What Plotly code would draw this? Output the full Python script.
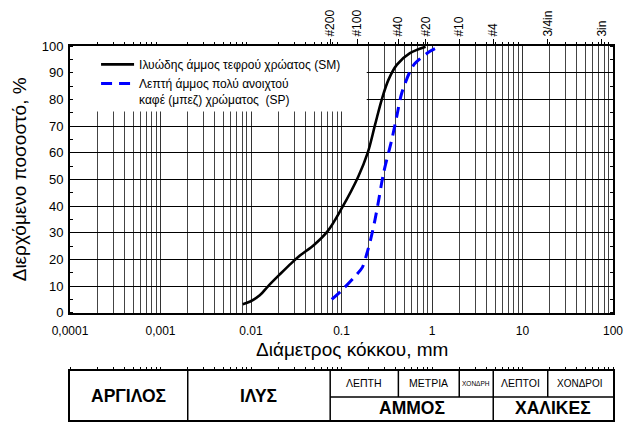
import numpy as np
import plotly.graph_objects as go

# ---------------- data ----------------
sm_d = [0.0081, 0.0098, 0.0125, 0.0155, 0.021, 0.028, 0.035, 0.05, 0.07, 0.1,
        0.153, 0.195, 0.235, 0.278, 0.33, 0.41, 0.57, 0.85]
sm_p = [3.2, 4.2, 6.5, 10.0, 14.5, 18.6, 21.5, 25.5, 30.5, 39.0,
        51.0, 60.0, 70.5, 79.8, 87.3, 93.0, 97.3, 99.7]

sp_d = [0.078, 0.1, 0.135, 0.17, 0.19, 0.21, 0.235, 0.26, 0.29, 0.36,
        0.41, 0.46, 0.57, 0.65, 0.95, 1.2]
sp_p = [5.0, 8.3, 12.9, 17.0, 22.0, 27.5, 35.0, 43.0, 52.0, 65.0,
        74.0, 82.0, 90.4, 93.5, 98.0, 99.7]

sm_name = "Ιλυώδης άμμος τεφρού χρώατος (SM)"
sp_name = "Λεπτή άμμος πολύ ανοιχτού<br>καφέ (μπεζ) χρώματος  (SP)"

x_tickvals = [0.0001, 0.001, 0.01, 0.1, 1, 10, 100]
x_ticktext = ["0,0001", "0,001", "0.01", "0.1", "1", "10", "100"]

sieve_sizes = [0.075, 0.15, 0.425, 0.85, 2.0, 4.75, 19.0, 75.0]
sieve_labels = ["#200", "#100", "#40", "#20", "#10", "#4", "3/4in", "3in"]

# soil classification table boundaries (mm)
full_dividers = [0.002, 0.075, 4.75]
half_dividers = [0.425, 2.0, 19.0]
big_labels = [("ΑΡΓΙΛΟΣ", 0.0001, 0.002), ("ΙΛΥΣ", 0.002, 0.075),
              ("ΑΜΜΟΣ", 0.075, 4.75), ("ΧΑΛΙΚΕΣ", 4.75, 100)]
small_labels = [("ΛΕΠΤΗ", 0.075, 0.425, 10.5), ("ΜΕΤΡΙΑ", 0.425, 2.0, 10.5),
                ("ΧΟΝΔΡΗ", 2.0, 4.75, 6.5), ("ΛΕΠΤΟΙ", 4.75, 19.0, 10.5),
                ("ΧΟΝΔΡΟΙ", 19.0, 100, 10)]

minor_vals = [m * 10.0 ** e for e in range(-4, 2) for m in range(2, 10)]
all_vals = sorted(minor_vals + x_tickvals)

FONT = "Arial, 'Liberation Sans', sans-serif"
H = 422.0
TOP = 46.0
AXIS_Y = 312.7
TABLE_TOP = 371.0
PLOT_H = H - TOP - 2  # plot area height (margin t=46, b=2)

fig = go.Figure()
fig.add_trace(go.Scatter(x=sm_d, y=sm_p, mode="lines", name=sm_name,
                         line=dict(color="black", width=2.6, shape="spline", smoothing=1.0)))
fig.add_trace(go.Scatter(x=sp_d, y=sp_p, mode="lines", name=sp_name,
                         line=dict(color="#0000ff", width=3, dash="11px,7px",
                                   shape="spline", smoothing=0.8)))
# helper traces so the extra axes are drawn
fig.add_trace(go.Scatter(x=sieve_sizes, y=[None] * len(sieve_sizes), xaxis="x2", yaxis="y",
                         mode="markers", showlegend=False, hoverinfo="skip"))
fig.add_trace(go.Scatter(x=x_tickvals, y=[None] * len(x_tickvals), xaxis="x3", yaxis="y3",
                         mode="markers", showlegend=False, hoverinfo="skip"))

shapes = []
# white box behind legend (covers grid only)
shapes.append(dict(type="rect", xref="x", yref="y", x0=0.0001, x1=0.19, y0=75.4, y1=100,
                   fillcolor="white", line=dict(width=0), layer="between"))
for d in full_dividers:
    shapes.append(dict(type="line", xref="x3", yref="y3", x0=d, x1=d, y0=0, y1=1,
                       line=dict(color="black", width=1.5)))
for d in half_dividers:
    shapes.append(dict(type="line", xref="x3", yref="y3", x0=d, x1=d, y0=0.47, y1=1,
                       line=dict(color="black", width=1.5)))
shapes.append(dict(type="line", xref="x3", yref="y3", x0=0.075, x1=100, y0=0.47, y1=0.47,
                   line=dict(color="black", width=1.5)))

annotations = []
for txt, a, b in big_labels:
    yy = 0.5 if txt in ("ΑΡΓΙΛΟΣ", "ΙΛΥΣ") else 0.24
    annotations.append(dict(text="<b>%s</b>" % txt, xref="x3", yref="y3",
                            x=(np.log10(a) + np.log10(b)) / 2, y=yy, showarrow=False,
                            xanchor="center", yanchor="middle",
                            font=dict(family=FONT, size=17.5, color="black")))
for txt, a, b, fs in small_labels:
    annotations.append(dict(text=txt, xref="x3", yref="y3",
                            x=(np.log10(a) + np.log10(b)) / 2, y=0.75, showarrow=False,
                            xanchor="center", yanchor="middle",
                            font=dict(family=FONT, size=fs, color="black")))
annotations.append(dict(text="Διάμετρος κόκκου, mm", xref="paper", yref="paper",
                        x=0.519, y=(H - 2 - 349) / PLOT_H, showarrow=False,
                        xanchor="center", yanchor="middle",
                        font=dict(family=FONT, size=19, color="black")))

fig.update_layout(
    width=633, height=422, autosize=False,
    margin=dict(l=70, r=20, t=46, b=2, pad=0, autoexpand=False),
    paper_bgcolor="white", plot_bgcolor="white",
    font=dict(family=FONT, color="black"),
    showlegend=True,
    legend=dict(x=0.048, y=0.989, xanchor="left", yanchor="top",
                bgcolor="rgba(255,255,255,0)", borderwidth=0, valign="top",
                font=dict(family=FONT, size=12, color="black"),
                tracegroupgap=0, itemwidth=33),
    xaxis=dict(type="log", range=[-4, 2], domain=[0, 1], anchor="y", automargin=False,
               tickvals=x_tickvals, ticktext=x_ticktext, ticks="", ticklabelstandoff=6,
               tickfont=dict(family=FONT, size=12),
               showgrid=True, gridcolor="#333", gridwidth=1,
               minor=dict(tickvals=minor_vals, showgrid=True, gridcolor="#444", gridwidth=1, ticks=""),
               showline=True, linecolor="black", linewidth=2, mirror=True, zeroline=False),
    xaxis2=dict(type="log", range=[-4, 2], overlaying="x", side="top", anchor="y", automargin=False,
                tickvals=sieve_sizes, ticktext=sieve_labels, tickangle=-90,
                ticks="outside", ticklen=6, tickcolor="black", tickwidth=1,
                tickfont=dict(family=FONT, size=12),
                minor=dict(tickvals=minor_vals, ticks="outside", ticklen=3, tickcolor="black"),
                showgrid=False, showline=False, zeroline=False),
    yaxis=dict(range=[0, 100], domain=[(H - 2 - AXIS_Y) / PLOT_H, 1], anchor="x", automargin=False,
               tickvals=list(range(0, 101, 10)), ticks="", ticklabelstandoff=2,
               tickfont=dict(family=FONT, size=13),
               showgrid=True, gridcolor="#000", gridwidth=1,
               minor=dict(dtick=5, ticks="inside", ticklen=3, tickcolor="black", showgrid=False),
               showline=True, linecolor="black", linewidth=2, mirror="allticks", zeroline=False,
               title=dict(text="Διερχόμενο ποσοστό, %", font=dict(family=FONT, size=19), standoff=10)),
    xaxis3=dict(type="log", range=[-4, 2], domain=[0, 1], anchor="y3", automargin=False,
                tickvals=all_vals, showticklabels=False, ticks="outside", ticklen=2,
                tickcolor="black", showgrid=False, showline=True, linecolor="black",
                linewidth=1.5, mirror="allticks", zeroline=False),
    yaxis3=dict(range=[0, 1], domain=[0, (H - 2 - TABLE_TOP) / PLOT_H], anchor="x3", automargin=False,
                showticklabels=False, ticks="", showgrid=False, showline=True,
                linecolor="black", linewidth=1.5, mirror=True, zeroline=False),
    shapes=shapes, annotations=annotations,
)

fig.write_html("out.html")
